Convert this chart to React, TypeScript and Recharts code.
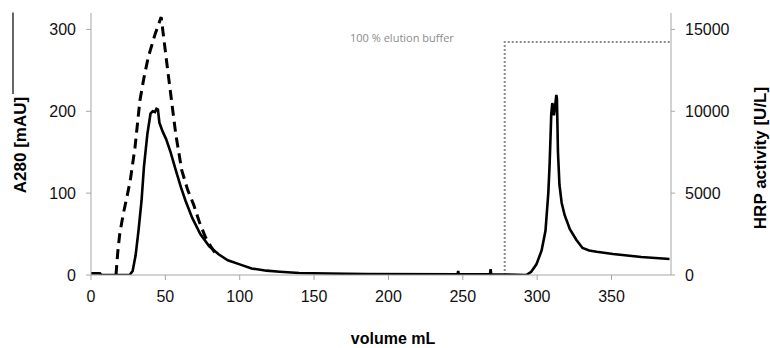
import React from 'react';
import { LineChart, Line, XAxis, YAxis, Customized } from 'recharts';

const xTicks = [0, 50, 100, 150, 200, 250, 300, 350];
const leftTicks = [0, 100, 200, 300];
const rightTicks = [0, 5000, 10000, 15000];

// A280 [mAU] vs volume mL (solid)
const a280 = [
  [0, 2], [6, 2], [7, 0], [26, 0], [28, 5], [30, 24], [32, 55], [34, 91], [35.6, 132],
  [37.9, 172], [40, 197], [41.5, 200], [43, 199], [44, 203], [45, 202], [46, 186],
  [48, 176], [50.5, 166], [53.5, 150], [57, 128], [60.5, 107], [63.5, 91], [68, 70],
  [73.5, 50], [79.5, 35], [86, 25], [92, 18], [100, 13], [108, 8], [118, 5.3], [127, 4],
  [140, 2.5], [160, 1.8], [185, 1.2], [246.5, 1], [246.9, 5], [247.3, 1], [268.3, 1],
  [268.7, 7], [269.1, 1], [292.7, 0], [296, 4], [299.5, 13], [303, 30], [305.6, 54],
  [307.5, 100], [308.4, 136], [309.5, 197], [310.2, 210], [310.8, 205], [311.3, 195],
  [312, 205], [312.9, 220], [313.3, 215], [314, 150], [315, 110], [316.5, 88],
  [318.5, 73], [322, 56], [326.3, 43], [330.5, 33], [335, 30], [340, 28.5], [351, 25.7],
  [370, 22], [389, 19.6],
].map(([x, v]) => ({ x, a280: v }));

// HRP activity [U/L] (dashed)
const hrp = [
  [16.8, 0], [18, 1400], [19.3, 2500], [21.7, 3730], [24, 4700], [26.4, 5770],
  [29.6, 7800], [32.9, 10660], [35.5, 12000], [38.5, 13300], [43.2, 14740],
  [47.2, 15750], [51.3, 12700], [57, 8600], [61, 6400], [65, 5200], [69, 4300],
  [73, 3200], [77, 2300], [80.5, 1750], [84, 1280],
].map(([x, v]) => ({ x, hrp: v }));

// elution buffer step (dotted), plotted on right axis scale
const buffer = [
  [278.2, 0], [278.2, 14230], [390, 14230],
].map(([x, v]) => ({ x, buf: v }));

const axisGray = '#a6a6a6';
const tickFont = { fontFamily: 'Liberation Sans, Arial, sans-serif', fontSize: 16, fill: '#111' };

const Decor = () => (
  <g>
    <line x1={13} y1={12.5} x2={13} y2={94} stroke="#000" strokeWidth={1.2} />
    <text
      x={20}
      y={145}
      transform="rotate(-90 20 145)"
      textAnchor="middle"
      dominantBaseline="central"
      fontFamily="Liberation Sans, Arial, sans-serif"
      fontWeight="bold"
      fontSize={17}
      fill="#000"
    >
      A280 [mAU]
    </text>
    <text
      x={760}
      y={158}
      transform="rotate(-90 760 158)"
      textAnchor="middle"
      dominantBaseline="central"
      fontFamily="Liberation Sans, Arial, sans-serif"
      fontWeight="bold"
      fontSize={17}
      fill="#000"
    >
      HRP activity [U/L]
    </text>
    <text
      x={393}
      y={344}
      textAnchor="middle"
      fontFamily="Liberation Sans, Arial, sans-serif"
      fontWeight="bold"
      fontSize={16}
      fill="#000"
    >
      volume mL
    </text>
    <text x={350} y={42} fontFamily="Open Sans, sans-serif" fontSize={11} fill="#8c8c8c">
      100 % elution buffer
    </text>
  </g>
);

export default function App() {
  return (
    <div style={{ position: 'absolute', left: 0, top: 0, width: 770, height: 348, background: '#fff' }}>
      <LineChart width={770} height={348} margin={{ top: 13, right: 0, bottom: 0, left: 0 }}>
        <XAxis
          dataKey="x"
          type="number"
          domain={[0, 390]}
          ticks={xTicks}
          allowDataOverflow
          height={73}
          stroke={axisGray}
          tickSize={5}
          tickMargin={11}
          tick={tickFont}
          tickLine={{ stroke: axisGray }}
          axisLine={{ stroke: axisGray }}
        />
        <YAxis
          yAxisId="left"
          orientation="left"
          domain={[0, 320]}
          ticks={leftTicks}
          width={91}
          tickSize={5}
          tickMargin={10}
          tick={tickFont}
          tickLine={{ stroke: axisGray }}
          axisLine={{ stroke: axisGray }}
          allowDataOverflow
        />
        <YAxis
          yAxisId="right"
          orientation="right"
          domain={[0, 16000]}
          ticks={rightTicks}
          width={99}
          tickSize={4}
          tickMargin={10}
          tick={tickFont}
          tickLine={{ stroke: axisGray }}
          axisLine={{ stroke: axisGray }}
          allowDataOverflow
        />
        <Line
          yAxisId="right"
          data={buffer}
          dataKey="buf"
          type="linear"
          stroke="#8c8c8c"
          strokeWidth={2}
          strokeDasharray="2 2"
          dot={false}
          isAnimationActive={false}
        />
        <Line
          yAxisId="right"
          data={hrp}
          dataKey="hrp"
          type="linear"
          stroke="#000"
          strokeWidth={3}
          strokeDasharray="10 6"
          dot={false}
          isAnimationActive={false}
        />
        <Line
          yAxisId="left"
          data={a280}
          dataKey="a280"
          type="linear"
          stroke="#000"
          strokeWidth={2.6}
          dot={false}
          isAnimationActive={false}
        />
        <Customized component={Decor} />
      </LineChart>
    </div>
  );
}
